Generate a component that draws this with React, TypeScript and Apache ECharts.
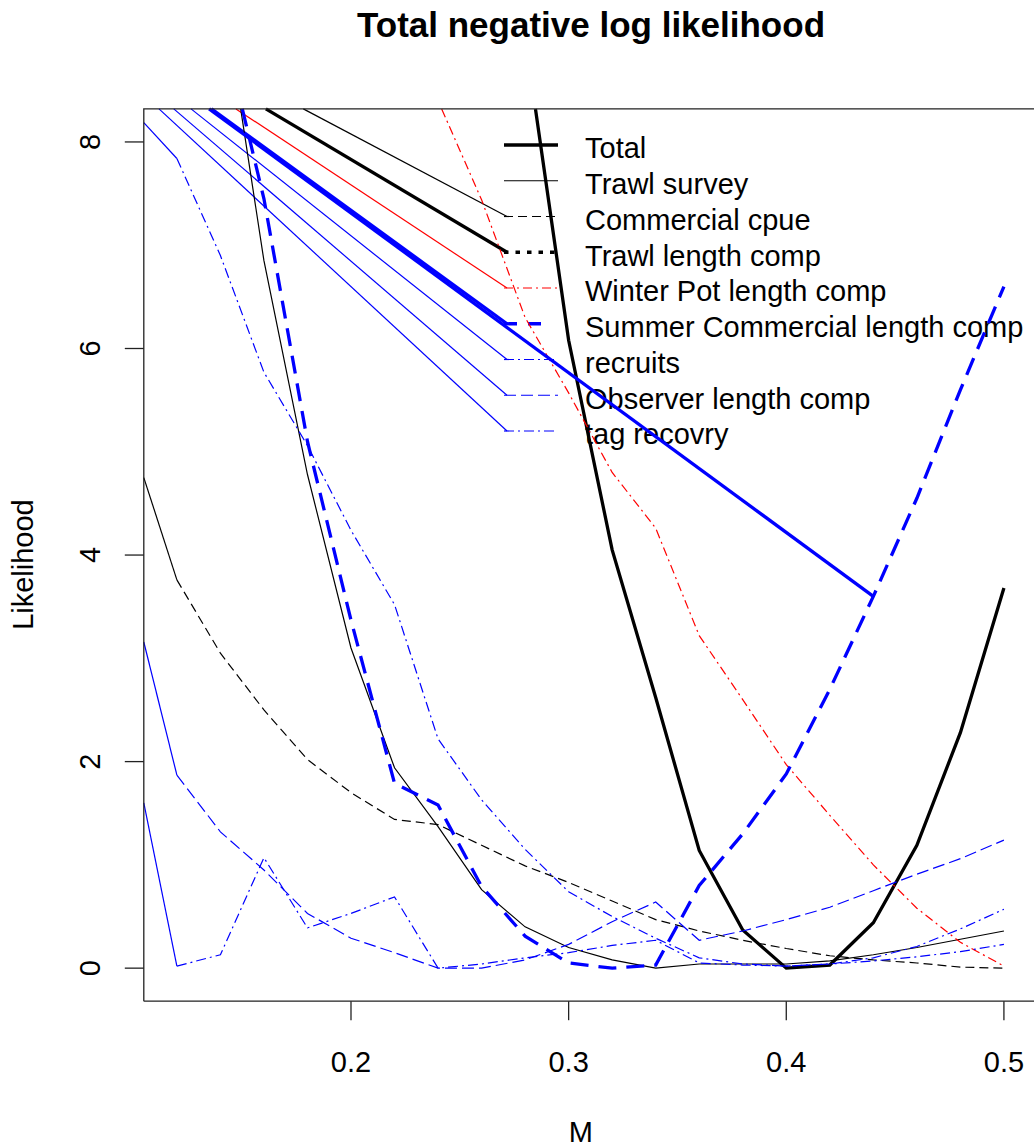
import React, { useEffect, useRef } from 'react';
import * as echarts from 'echarts';

// ---------- data ----------
const M = [0.12, 0.14, 0.16, 0.18, 0.2, 0.22, 0.24, 0.26, 0.28, 0.3, 0.32, 0.34, 0.36, 0.38, 0.4, 0.42, 0.44, 0.46, 0.48, 0.5];

const total = [null, null, null, null, null, null, null, null, 9.02, 6.08, 4.05, 2.62, 1.14, 0.37, 0.0, 0.03, 0.44, 1.19, 2.28, 3.68];
const trawlSurvey = [null, 9.6, 6.85, 4.78, 3.1, 1.94, 1.37, 0.76, 0.4, 0.2, 0.08, 0.0, 0.04, 0.04, 0.04, 0.07, 0.13, 0.2, 0.28, 0.36];
const commercialCpue = [3.76, 3.05, 2.5, 2.02, 1.7, 1.44, 1.39, 1.19, 0.99, 0.83, 0.65, 0.47, 0.36, 0.27, 0.19, 0.12, 0.08, 0.05, 0.01, 0.0];
const winterPot = [null, null, null, null, null, null, 8.4, 7.44, 6.3, 5.57, 4.8, 4.26, 3.22, 2.6, 1.97, 1.48, 1.0, 0.58, 0.25, 0.02];
const summerCommercial = [null, 9.2, 7.45, 5.1, 3.37, 1.79, 1.58, 0.79, 0.31, 0.05, 0.0, 0.03, 0.8, 1.3, 1.88, 2.7, 3.6, 4.55, 5.6, 6.6];
const recruits = [7.84, 6.9, 5.77, 5.06, 4.24, 3.52, 2.22, 1.63, 1.15, 0.74, 0.5, 0.29, 0.1, 0.04, 0.02, 0.04, 0.1, 0.21, 0.38, 0.57];
const observer = [1.87, 1.32, 0.95, 0.53, 0.29, 0.15, 0.0, 0.0, 0.08, 0.23, 0.45, 0.64, 0.27, 0.36, 0.47, 0.59, 0.75, 0.91, 1.06, 1.24];
const tagRecovery = [0.02, 0.13, 1.07, 0.39, 0.53, 0.69, 0.0, 0.04, 0.1, 0.15, 0.22, 0.27, 0.05, 0.03, 0.02, 0.04, 0.07, 0.11, 0.16, 0.23];

// the drawing device started every dashed polyline from this stray point
const strayOrigin = [0.0236, 10.04];
// the summer curve was restarted from the stray point at this M
const summerRestartM = 0.44;

const xTicks = [0.2, 0.3, 0.4, 0.5];
const yTicks = [0, 2, 4, 6, 8];

const legendNames = [
  'Total',
  'Trawl survey',
  'Commercial cpue',
  'Trawl length comp',
  'Winter Pot length comp',
  'Summer Commercial length comp',
  'recruits',
  'Observer length comp',
  'tag recovry',
];

// ---------- styles ----------
const FONT = "'Liberation Sans', Arial, Helvetica, sans-serif";
const BLACK = '#000000';
const RED = '#ff0000';
const BLUE = '#0000ff';
const THIN = 1.2;
const THICK = 3.3;

type Style = { color: string; width: number; dash: number[] | null };
const styles: Style[] = [
  { color: BLACK, width: THICK, dash: null },
  { color: BLACK, width: THIN, dash: null },
  { color: BLACK, width: THIN, dash: [9, 5] },
  { color: BLACK, width: THICK, dash: [4.5, 7] },
  { color: RED, width: THIN, dash: [9, 4, 2, 4] },
  { color: BLUE, width: THICK, dash: [18, 10] },
  { color: BLUE, width: THIN, dash: [10, 4, 2, 4] },
  { color: BLUE, width: THIN, dash: [12, 5] },
  { color: BLUE, width: THIN, dash: [10, 4, 2, 4] },
];
const legendDash: (number[] | null)[] = [null, null, [9, 5], [4.5, 7], [9, 4, 2, 4], [13, 11], [10, 4, 2, 4], [12, 5], [10, 4, 2, 4]];

const seriesValues: (number | null)[][] = [
  total,
  trawlSurvey,
  commercialCpue,
  [], // Trawl length comp: no visible curve
  winterPot,
  summerCommercial,
  recruits,
  observer,
  tagRecovery,
];

// R plot box (pixels) and its data ranges
const BOX = { left: 143.8, top: 108.9, width: 893.2, height: 892.3 };
const X_RANGE = [0.1048, 0.5152];
const Y_RANGE = [-0.32, 8.32];
const TICK_LEN = 19;
// the echarts grid is widened by the tick length so the outward ticks lie inside it
const DX_TICK = (TICK_LEN / BOX.width) * (X_RANGE[1] - X_RANGE[0]);
const DY_TICK = (TICK_LEN / BOX.height) * (Y_RANGE[1] - Y_RANGE[0]);
const GRID = { left: BOX.left - TICK_LEN, top: BOX.top, width: BOX.width + TICK_LEN, height: BOX.height + TICK_LEN };

const LEG = { x0: 504, x1: 558, artEnd: 507, textX: 585, y0: 145, dy: 35.75 };
const AXIS_COLOR = '#222';

function points(vals: (number | null)[]) {
  const out: number[][] = [];
  M.forEach((m, i) => {
    const v = vals[i];
    if (v !== null && v !== undefined) out.push([m, v]);
  });
  return out;
}

// Liang-Barsky clip of a segment to the plot box (in data units)
function clipSeg(a: number[], b: number[]): number[][] | null {
  const dx = b[0] - a[0];
  const dy = b[1] - a[1];
  const p = [-dx, dx, -dy, dy];
  const q = [a[0] - X_RANGE[0], X_RANGE[1] - a[0], a[1] - Y_RANGE[0], Y_RANGE[1] - a[1]];
  let u0 = 0;
  let u1 = 1;
  for (let i = 0; i < 4; i++) {
    if (p[i] === 0) {
      if (q[i] < 0) return null;
    } else {
      const t = q[i] / p[i];
      if (p[i] < 0) {
        if (t > u1) return null;
        if (t > u0) u0 = t;
      } else {
        if (t < u0) return null;
        if (t < u1) u1 = t;
      }
    }
  }
  return [
    [a[0] + u0 * dx, a[1] + u0 * dy],
    [a[0] + u1 * dx, a[1] + u1 * dy],
  ];
}

function clipPolyline(pts: number[][]): number[][][] {
  const pieces: number[][][] = [];
  let cur: number[][] | null = null;
  for (let i = 0; i + 1 < pts.length; i++) {
    const c = clipSeg(pts[i], pts[i + 1]);
    if (!c) {
      cur = null;
      continue;
    }
    const last = cur ? cur[cur.length - 1] : null;
    if (cur && last && Math.abs(last[0] - c[0][0]) < 1e-12 && Math.abs(last[1] - c[0][1]) < 1e-12) {
      cur.push(c[1]);
    } else {
      cur = [c[0], c[1]];
      pieces.push(cur);
    }
  }
  return pieces;
}

export default function App() {
  const ref = useRef<HTMLDivElement>(null);

  useEffect(() => {
    document.body.style.margin = '0';
    document.body.style.overflow = 'hidden';
    const chart = echarts.init(ref.current!, null, { renderer: 'svg' });

    const series: any[] = [];
    const plain = (data: number[][], color: string, width: number, type: any, z = 2) => ({
      type: 'line',
      data,
      clip: false,
      showSymbol: false,
      symbol: 'none',
      silent: true,
      z,
      lineStyle: { color, width, type, cap: 'butt', join: 'miter' },
    });

    // plot box (R's box())
    series.push(
      plain(
        [
          [X_RANGE[0], Y_RANGE[0]],
          [X_RANGE[1], Y_RANGE[0]],
          [X_RANGE[1], Y_RANGE[1]],
          [X_RANGE[0], Y_RANGE[1]],
          [X_RANGE[0], Y_RANGE[0]],
        ],
        AXIS_COLOR,
        1.3,
        'solid',
        5
      )
    );
    // outward tick marks
    xTicks.forEach((t) => series.push(plain([[t, Y_RANGE[0]], [t, Y_RANGE[0] - DY_TICK]], AXIS_COLOR, 1.3, 'solid', 5)));
    yTicks.forEach((t) => series.push(plain([[X_RANGE[0] - DX_TICK, t], [X_RANGE[0], t]], AXIS_COLOR, 1.3, 'solid', 5)));

    // curves (clipped to the box), plus the stray solid lead-in of each dashed line
    seriesValues.forEach((vals, k) => {
      const st = styles[k];
      const pts = points(vals);
      if (!pts.length) return;
      clipPolyline(pts).forEach((piece) => {
        const s = plain(piece, st.color, st.width, st.dash ? st.dash : 'solid');
        (s as any).name = legendNames[k];
        series.push(s);
      });
      if (st.dash) {
        clipPolyline([strayOrigin, pts[0]]).forEach((piece) => series.push(plain(piece, st.color, st.width, 'solid')));
      }
      if (legendNames[k] === 'Summer Commercial length comp') {
        const idx = M.indexOf(summerRestartM);
        clipPolyline([strayOrigin, [M[idx], vals[idx] as number]]).forEach((piece) =>
          series.push(plain(piece, st.color, st.width, 'solid'))
        );
      }
    });

    const option: any = {
      animation: false,
      backgroundColor: '#ffffff',
      textStyle: { fontFamily: FONT, color: BLACK },
      title: {
        text: 'Total negative log likelihood',
        left: 591,
        top: 7,
        padding: 0,
        textAlign: 'center',
        textStyle: { fontSize: 35, fontWeight: 'bold', fontFamily: FONT, color: BLACK },
      },
      grid: {
        left: GRID.left,
        top: GRID.top,
        width: GRID.width,
        height: GRID.height,
        show: false,
        containLabel: false,
        outerBoundsMode: 'none',
      },
      xAxis: {
        type: 'value',
        position: 'bottom',
        min: X_RANGE[0] - DX_TICK,
        max: X_RANGE[1],
        name: 'M',
        nameLocation: 'middle',
        nameGap: 116 - TICK_LEN,
        nameTextStyle: { fontSize: 29, fontFamily: FONT, color: BLACK },
        axisLine: { show: false, onZero: false },
        splitLine: { show: false },
        axisTick: { show: false },
        axisLabel: {
          show: true,
          customValues: xTicks,
          margin: 46 - TICK_LEN,
          fontSize: 29,
          fontFamily: FONT,
          color: BLACK,
          formatter: (v: number) => v.toFixed(1),
        },
      },
      yAxis: {
        type: 'value',
        position: 'left',
        min: Y_RANGE[0] - DY_TICK,
        max: Y_RANGE[1],
        name: 'Likelihood',
        nameLocation: 'middle',
        nameGap: 106 - TICK_LEN,
        nameTextStyle: { fontSize: 29, fontFamily: FONT, color: BLACK },
        axisLine: { show: false, onZero: false },
        splitLine: { show: false },
        axisTick: { show: false },
        axisLabel: {
          show: true,
          customValues: yTicks,
          rotate: 90,
          margin: 39 - TICK_LEN,
          fontSize: 29,
          fontFamily: FONT,
          color: BLACK,
          formatter: (v: number) => String(v),
        },
      },
      series,
    };
    chart.setOption(option);

    // legend (R style, no box)
    const p = chart.convertToPixel({ xAxisIndex: 0, yAxisIndex: 0 }, strayOrigin) as number[];
    const graphics: any[] = [];
    legendNames.forEach((name, i) => {
      const y = LEG.y0 + i * LEG.dy;
      const st = styles[i];
      const dash = legendDash[i];
      graphics.push({
        type: 'line',
        silent: true,
        shape: { x1: LEG.x0, y1: y, x2: name === 'Summer Commercial length comp' ? 545 : LEG.x1, y2: y },
        style: { stroke: st.color, lineWidth: st.width, lineDash: dash || undefined, lineCap: 'butt' },
      });
      if (dash) {
        const t = (BOX.top - p[1]) / (y - p[1]);
        const sx = p[0] + t * (LEG.artEnd - p[0]);
        graphics.push({
          type: 'line',
          silent: true,
          shape: { x1: sx, y1: BOX.top, x2: LEG.artEnd, y2: y },
          style: { stroke: st.color, lineWidth: st.width, lineCap: 'butt' },
        });
      }
      graphics.push({
        type: 'text',
        silent: true,
        x: LEG.textX,
        y: y + 3.3,
        style: {
          text: name,
          fontSize: 29,
          fontFamily: FONT,
          fill: BLACK,
          align: 'left',
          verticalAlign: 'middle',
          textAlign: 'left',
          textVerticalAlign: 'middle',
        },
      });
    });
    chart.setOption({ graphic: graphics });

    return () => chart.dispose();
  }, []);

  return <div ref={ref} style={{ position: 'fixed', left: 0, top: 0, width: 1040, height: 1147 }} />;
}
